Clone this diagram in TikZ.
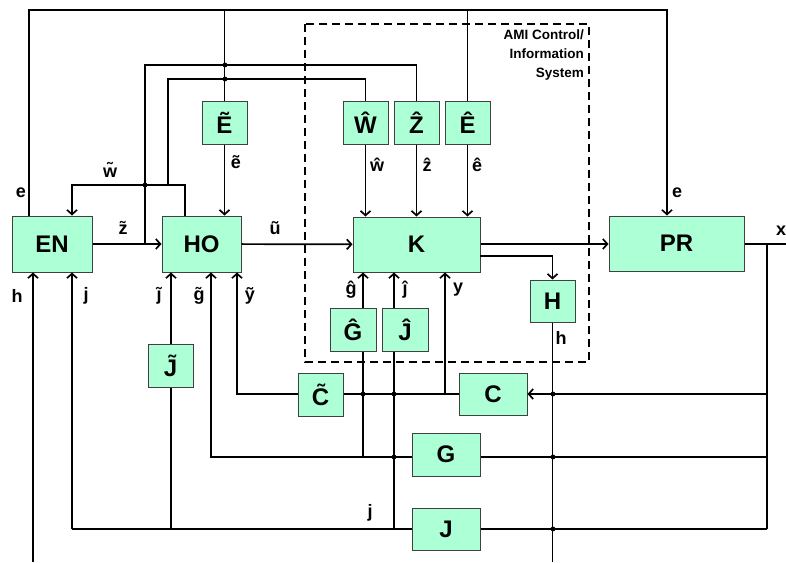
\documentclass[tikz,border=0pt]{standalone}
\usepackage{fontspec}
\setmainfont{Liberation Sans}
\usetikzlibrary{arrows.meta}
\definecolor{boxgreen}{RGB}{173,255,214}

\begin{document}
\begin{tikzpicture}
  [x=1pt,y=-1pt,
   block/.style={draw=black!75,line width=1pt,fill=boxgreen,inner sep=0pt,
     minimum width=45pt,minimum height=43pt,font=\fontsize{24}{27}\selectfont\bfseries},
   wide/.style={block,minimum width=68pt,minimum height=42pt},
   big/.style={block,minimum height=56pt},
   sig/.style={line width=1.7pt},
   bus/.style={line width=2.8pt},
   arr/.style={sig,arrows={-Straight Barb[length=4.5pt,width=10pt]}},
   lab/.style={inner sep=0pt,font=\fontsize{18}{20}\selectfont\bfseries},
   amibox/.style={line width=1.9pt,dash pattern=on 8pt off 5pt}]
  \useasboundingbox (0,0) rectangle (786,562);

  \draw[amibox] (305,24) rectangle (589,362);
  \node[anchor=north east,align=right,inner sep=0pt,
    font=\fontsize{13.5}{19}\selectfont\bfseries] (ami) at (584,30) {AMI Control/\\Information\\System};

  \node[big,minimum width=80pt] (EN) at (52,244) {EN};
  \node[big,minimum width=79pt] (HO) at (201.5,244) {HO};
  \node[big,minimum width=127pt,minimum height=55pt] (K) at (416.5,244.5) {K};
  \node[big,minimum width=135pt,minimum height=55pt] (PR) at (676.5,243.5) {PR};

  \node[block] (Et) at (224.5,122.5) {\~{E}};
  \node[block] (Wh) at (365.5,122.5) {\^{W}};
  \node[block] (Zh) at (416.5,122.5) {\^{Z}};
  \node[block] (Eh) at (467.5,122.5) {\^{E}};
  \node[block,minimum height=42pt] (H) at (552.5,301) {H};
  \node[block,minimum width=46pt] (Gh) at (353,329.5) {\^{G}};
  \node[block,minimum width=46pt] (Jh) at (405,329.5) {\^{J}};
  \node[block] (Jt) at (170.5,365.5) {\~{J}};
  \node[block] (Ct) at (320.5,394.5) {\~{C}};
  \node[wide] (C) at (493,394) {C};
  \node[wide,minimum height=43pt] (G) at (446,454.5) {G};
  \node[wide] (J) at (446,529) {J};

  \coordinate (eL) at (29,10);
  \coordinate (eM) at (467,10);
  \coordinate (eR) at (667,10);
  \coordinate (zt) at (145,244);
  \coordinate (zu) at (145,65);
  \coordinate (wr) at (185,185);
  \coordinate (wl) at (72,185);
  \coordinate (wt) at (168,185);
  \coordinate (wu) at (168,79);
  \coordinate (kh) at (480,256);
  \coordinate (hb) at (553,562);
  \coordinate (hin) at (33,562);
  \coordinate (xo) at (786,244);
  \coordinate (xs) at (767,244);
  \coordinate (xc) at (767,394);
  \coordinate (xg) at (767,457);
  \coordinate (xj) at (767,529);
  \coordinate (cy) at (445,394);
  \coordinate (cyt) at (237,394);
  \coordinate (gl) at (211,457);
  \coordinate (gh) at (363,457);
  \coordinate (jl) at (72,529);
  \coordinate (jt) at (171,529);
  \coordinate (jh) at (394,529);

  \draw[bus] (EN.north -| eL) -- (eL) -- (eM);
  \draw[arr] (eM) -| (PR.north -| eR);
  \draw[sig] (Et.north) -- (Et.north |- eL);
  \draw[sig] (Eh.north) -- (Eh.north |- eL);
  \draw[arr] (Et.south) -- (Et.south |- HO.north);
  \draw[arr] (Wh.south) -- (Wh.south |- K.north);
  \draw[arr] (Zh.south) -- (Zh.south |- K.north);
  \draw[arr] (Eh.south) -- (Eh.south |- K.north);

  \draw[arr] (EN) -- (HO);
  \draw[sig] (zt) -- (zu) -| (Zh.north);
  \draw[arr] (HO.north -| wr) -- (wr) -- (wl) -- (EN.north -| wl);
  \draw[sig] (wt) -- (wu) -| (Wh.north);

  \draw[arr] (HO) -- (K);
  \draw[arr] (K.east |- xs) -- (PR.west |- xs);
  \draw[arr] (kh) -| (H.north);
  \draw[sig] (H.south) -- (H.south |- hb);
  \draw[arr] (hin) -- (EN.south -| hin);

  \draw[sig] (PR.east |- xs) -- (xo);
  \draw[bus] (xs) -- (xg);
  \draw[sig] (xg) -- (xj);
  \draw[arr] (xc) -- (C.east |- xc);
  \draw[sig] (xg) -- (G.east |- xg);
  \draw[sig] (xj) -- (J.east |- xj);

  \draw[sig] (C.west |- xc) -- (Ct.east |- xc);
  \draw[arr] (cy) -- (K.south -| cy);
  \draw[arr] (Ct.west |- cyt) -- (cyt) -- (HO.south -| cyt);

  \draw[arr] (G.west |- gl) -- (gl) -- (HO.south -| gl);
  \draw[sig] (gh) -- (Gh.south -| gh);
  \draw[arr] (Gh.north -| gh) -- (K.south -| gh);

  \draw[sig] (J.west |- jl) -- (jt);
  \draw[bus] (jt) -- (jl);
  \draw[arr] (jl) -- (EN.south -| jl);
  \draw[sig] (jt) -- (Jt.south -| jt);
  \draw[arr] (Jt.north -| jt) -- (HO.south -| jt);
  \draw[sig] (jh) -- (Jh.south -| jh);
  \draw[arr] (Jh.north -| jh) -- (K.south -| jh);

  \foreach \p in {(145,185),(225,65),(225,79),(363,394),(394,394),
    (394,457),(553,394),(553,457),(553,529)}
    \fill \p circle (2.4pt);

  \node[lab] (le1) at (21,193) {e};
  \node[lab] (lwt) at (110,170) {\~{w}};
  \node[lab] (let) at (236,162) {\~{e}};
  \node[lab] (lzt) at (123,228) {\~{z}};
  \node[lab] (lut) at (275,228) {\~{u}};
  \node[lab] (lwh) at (377,165) {\^{w}};
  \node[lab] (lzh) at (427,165) {\^{z}};
  \node[lab] (leh) at (477,165) {\^{e}};
  \node[lab] (le2) at (677,193) {e};
  \node[lab] (lx) at (781,231) {x};
  \node[lab] (lh1) at (17,296) {h};
  \node[lab] (lj1) at (86,296) {j};
  \node[lab] (ljt) at (159,296) {\~{\j}};
  \node[lab] (lgt) at (199,296) {\~{g}};
  \node[lab] (lyt) at (250,296) {\~{y}};
  \node[lab] (lgh) at (351,290) {\^{g}};
  \node[lab] (ljh) at (405,290) {\^{j}};
  \node[lab] (ly) at (458,290) {y};
  \node[lab] (lh2) at (561,338) {h};
  \node[lab] (lj2) at (370,513) {j};
\end{tikzpicture}
\end{document}
